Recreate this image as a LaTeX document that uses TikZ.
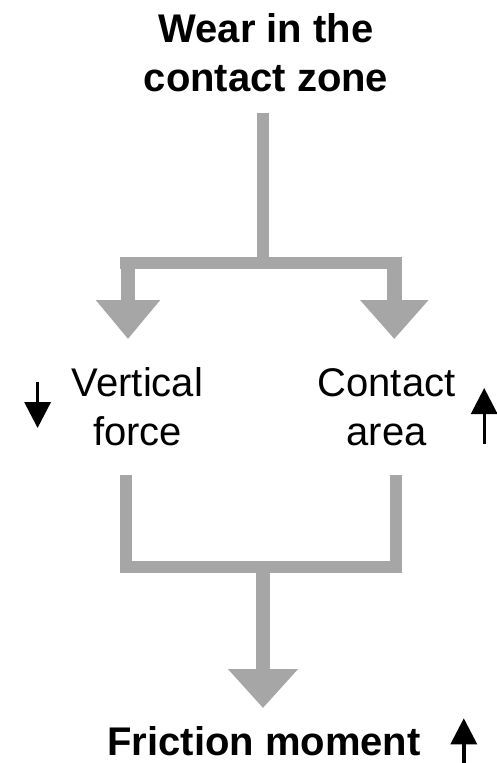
\documentclass[tikz,border=0pt]{standalone}
\usepackage{fontspec}
\setmainfont{Liberation Sans}
\usetikzlibrary{arrows.meta}
\definecolor{flowgray}{HTML}{A6A6A6}
\tikzset{
  label/.style={inner sep=0pt, align=center, anchor=base,
    font=\fontsize{40}{49}\selectfont},
  heading/.style={label, font=\fontsize{40}{49}\selectfont\bfseries},
  bar/.style={draw=flowgray, line cap=butt, line join=miter},
  flowarrow/.style={bar, -{Triangle[width=#1, length=39pt]}},
  trend/.style={draw=black, line width=3.4pt,
    -{Triangle[width=26pt, length=26pt]}}
}
\begin{document}
\begin{tikzpicture}[x=1pt, y=-1pt]
\useasboundingbox (0,0) rectangle (497,763);

% labels (anchored at the baseline of their last line)
\node[heading] (wear) at (266,91) {Wear in the\\contact zone};
\node[label] (vforce) at (137.5,445) {Vertical\\force};
\node[label] (carea) at (386.5,445) {Contact\\area};
\node[heading] (fmom) at (264,755) {Friction moment};

% junction points of the upper branch
\coordinate (stemtop) at (262.7,113);
\coordinate (stembot) at (262.7,269);
\coordinate (splitL) at (120,262.85);
\coordinate (splitR) at (401.7,262.85);
\coordinate (vfin) at (128,268);
\coordinate (vftip) at (128,339);
\coordinate (cain) at (394.3,268);
\coordinate (catip) at (394.3,339);

\draw[bar, line width=12pt] (stemtop) -- (stembot);
\draw[bar, line width=11.7pt] (splitL) -- (splitR);
\draw[flowarrow=62pt, line width=14.6pt] (vfin) -- (vftip);
\draw[flowarrow=66pt, line width=14.6pt] (cain) -- (catip);

% junction points of the lower branch
\coordinate (vfout) at (125.85,475);
\coordinate (vfjoin) at (125.85,572.7);
\coordinate (caout) at (395.85,475);
\coordinate (cajoin) at (395.85,572.7);
\coordinate (mergeL) at (120,566.85);
\coordinate (mergeR) at (401.7,566.85);
\coordinate (fmin) at (263,572);
\coordinate (fmtip) at (263,708);

\draw[bar, line width=11.7pt] (vfout) -- (vfjoin);
\draw[bar, line width=11.7pt] (caout) -- (cajoin);
\draw[bar, line width=11.7pt] (mergeL) -- (mergeR);
\draw[flowarrow=67.7pt, line width=14pt] (fmin) -- (fmtip);

% trend indicators
\coordinate (vfdownA) at (37.6,381.7);
\coordinate (vfdownB) at (37.6,428);
\coordinate (caupA) at (484.2,444);
\coordinate (caupB) at (484.2,388);
\coordinate (fmupA) at (463.8,763);
\coordinate (fmupB) at (463.8,718.3);

\draw[trend] (vfdownA) -- (vfdownB);
\draw[trend] (caupA) -- (caupB);
\draw[trend] (fmupA) -- (fmupB);
\end{tikzpicture}
\end{document}
